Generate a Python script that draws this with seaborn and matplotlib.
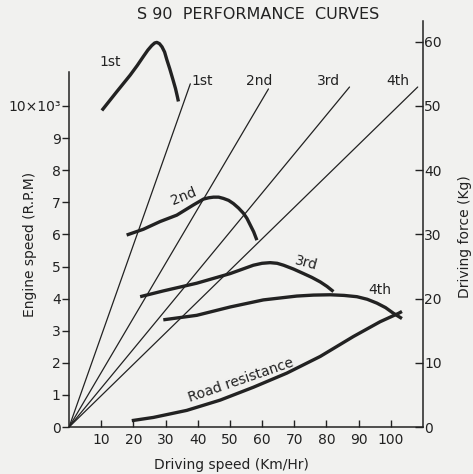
import matplotlib
matplotlib.use("Agg")
import matplotlib.pyplot as plt
import seaborn as sns

# gear lines: engine speed (x1000 rpm) vs driving speed, from origin to end point
gear_names = ["1st", "2nd", "3rd", "4th"]
gear_end_speed = [37.7, 62.0, 87.2, 108.4]
gear_end_rpm = [10.69, 10.53, 10.59, 10.59]
gear_label_speed = [41.3, 59.0, 80.8, 102.2]

# driving force curves (Kg)
f1_speed = [10.2, 14.8, 19.0, 21.2, 23.1, 24.5, 25.7, 26.6, 27.3, 28.1, 28.9, 29.7, 30.4, 31.3, 32.3, 33.1, 33.7, 34.0]
f1_force = [49.3, 52.2, 54.8, 56.3, 57.7, 58.7, 59.4, 59.8, 59.9, 59.7, 59.2, 58.4, 57.2, 55.8, 54.1, 52.7, 51.4, 50.7]

f2_speed = [17.9, 23.1, 28.3, 33.5, 38.7, 41.8, 43.4, 44.9, 46.5, 48.0, 49.6, 51.1, 52.7, 54.2, 55.3, 56.3, 57.4, 58.4]
f2_force = [29.9, 30.8, 32.0, 33.0, 34.6, 35.5, 35.7, 35.8, 35.8, 35.6, 35.3, 34.8, 34.1, 33.3, 32.5, 31.5, 30.4, 29.1]

f3_speed = [22.1, 29.3, 39.7, 50.1, 57.3, 60.0, 62.5, 64.7, 66.7, 69.8, 72.9, 75.5, 78.1, 80.2, 82.2]
f3_force = [20.3, 21.2, 22.4, 23.9, 25.2, 25.5, 25.6, 25.5, 25.2, 24.6, 23.9, 23.3, 22.6, 21.9, 21.1]

f4_speed = [29.3, 39.7, 50.1, 60.4, 70.8, 76.0, 81.2, 85.5, 89.5, 92.7, 95.7, 98.4, 100.9, 103.5]
f4_force = [16.7, 17.4, 18.7, 19.8, 20.4, 20.55, 20.6, 20.5, 20.3, 19.9, 19.3, 18.6, 17.7, 16.9]

road_speed = [19.5, 26.2, 36.6, 47.0, 57.3, 67.7, 78.1, 88.4, 96.7, 102.4, 103.5]
road_force = [1.0, 1.5, 2.6, 4.2, 6.2, 8.4, 11.0, 14.1, 16.4, 17.7, 18.0]

speed_ticks = [10, 20, 30, 40, 50, 60, 70, 80, 90, 100]
rpm_ticks = [0, 1, 2, 3, 4, 5, 6, 7, 8, 9, 10]
rpm_labels = ["0", "1", "2", "3", "4", "5", "6", "7", "8", "9", "10×10³"]
force_ticks = [0, 10, 20, 30, 40, 50, 60]

sns.set_theme(style="ticks")
plt.rcParams["font.family"] = ["DejaVu Sans"]
ink = "#222222"
paper = "#f1f1ef"

fig = plt.figure(figsize=(4.73, 4.74), dpi=100, facecolor=paper)
ax = fig.add_axes([0.146, 0.099, 0.748, 0.857])
ax.set_facecolor(paper)
ax2 = ax.twinx()

# straight gear lines
for name, xs, ys, lx in zip(gear_names, gear_end_speed, gear_end_rpm, gear_label_speed):
    sns.lineplot(x=[0, xs], y=[0, ys], ax=ax, color=ink, lw=0.9)
    ax.text(lx, 10.78, name, fontsize=10, color=ink, ha="center", va="center")

# force curves
for xs, ys in [(f1_speed, f1_force), (f2_speed, f2_force), (f3_speed, f3_force),
               (f4_speed, f4_force), (road_speed, road_force)]:
    sns.lineplot(x=xs, y=ys, ax=ax2, color=ink, lw=2.4, estimator=None, sort=False,
                 solid_joinstyle="round", solid_capstyle="butt")

ax2.text(12.8, 56.9, "1st", fontsize=10, color=ink, ha="center", va="center")
ax2.text(35.5, 36.0, "2nd", fontsize=10, color=ink, ha="center", va="center", rotation=22)
ax2.text(73.6, 25.6, "3rd", fontsize=10, color=ink, ha="center", va="center", rotation=-15)
ax2.text(96.7, 21.4, "4th", fontsize=10, color=ink, ha="center", va="center")
ax2.text(53.4, 7.3, "Road resistance", fontsize=10, color=ink, ha="center", va="center", rotation=19)

ax.set_xlim(0, 110)
ax.set_ylim(0, 12.65)
ax2.set_ylim(0, 63.25)

ax.set_xticks(speed_ticks)
ax.set_yticks(rpm_ticks)
ax.set_yticklabels(rpm_labels)
ax2.set_yticks(force_ticks)

for a in (ax, ax2):
    a.spines["top"].set_visible(False)
    for s in a.spines.values():
        s.set_color(ink)
        s.set_linewidth(1.1)
ax.spines["right"].set_visible(False)
ax2.spines["left"].set_visible(False)
ax2.spines["bottom"].set_visible(False)
ax.spines["left"].set_bounds(0, 11.05)

ax.tick_params(axis="y", direction="out", length=5, width=1, colors=ink, labelsize=10, pad=1)
ax.tick_params(axis="x", direction="in", length=5, width=1, colors=ink, labelsize=10, pad=4)
ax2.tick_params(axis="y", direction="in", length=6, width=1, colors=ink, labelsize=10, pad=1)

ax.set_xlabel("Driving speed (Km/Hr)", fontsize=10, color=ink)
ax.xaxis.set_label_coords(0.46, -0.075)
ax.set_ylabel("Engine speed (R.P.M)", fontsize=10, color=ink)
ax.yaxis.set_label_coords(-0.09, 0.45)
ax2.set_ylabel("Driving force (Kg)", fontsize=10, color=ink)
ax2.yaxis.set_label_coords(1.1, 0.47)

fig.text(0.545, 0.97, "S 90  PERFORMANCE  CURVES", fontsize=11.5, color=ink, ha="center", va="center")

fig.savefig("out.png", dpi=100, facecolor=paper)
